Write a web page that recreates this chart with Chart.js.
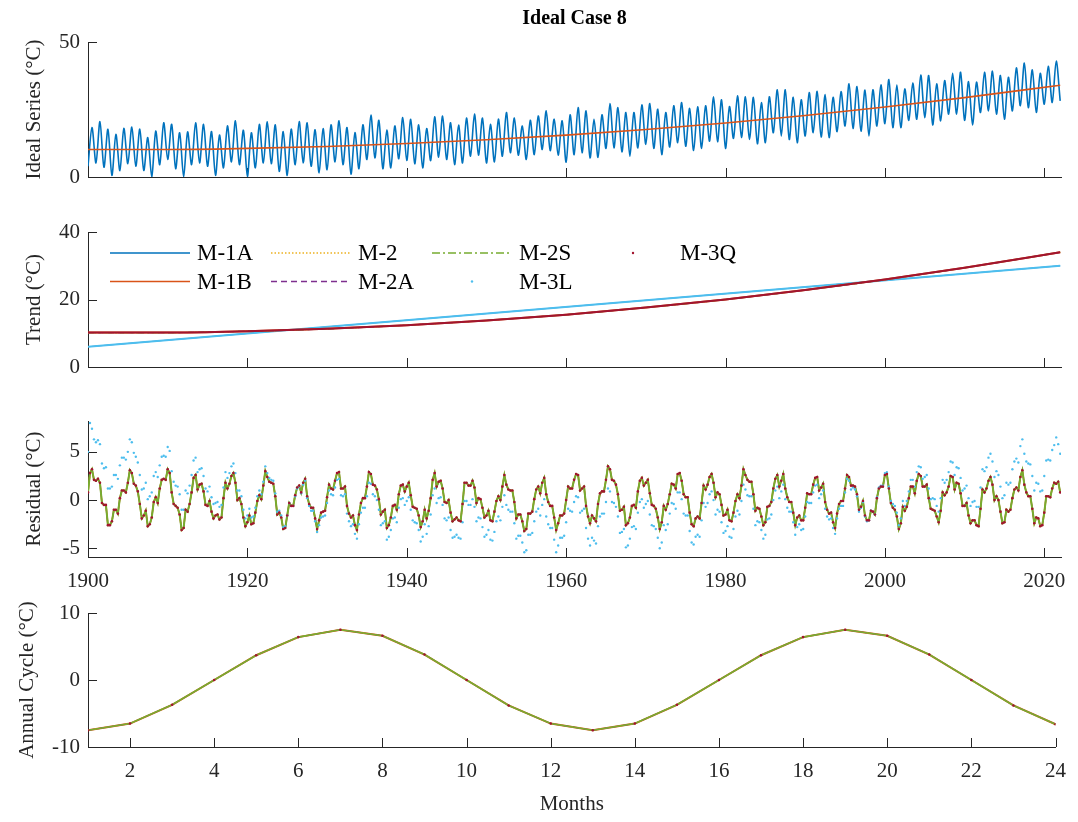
<!DOCTYPE html>
<html>
<head>
<meta charset="utf-8">
<title>Ideal Case 8</title>
<script src="https://cdn.jsdelivr.net/npm/chart.js@4.4.1/dist/chart.umd.min.js"></script>
<style>
  html, body { margin: 0; padding: 0; background: #fff; }
  #wrap { position: relative; width: 1078px; height: 822px; overflow: hidden; }
  .panel { position: absolute; left: 0; width: 1078px; }
  .panel canvas { display: block; }
</style>
</head>
<body>
<div id="wrap">
  <div class="panel" style="top:0px"><canvas id="idealChart" width="1078" height="200"></canvas></div>
  <div class="panel" style="top:200px"><canvas id="trendChart" width="1078" height="200"></canvas></div>
  <div class="panel" style="top:400px"><canvas id="residualChart" width="1078" height="190"></canvas></div>
  <div class="panel" style="top:590px"><canvas id="cycleChart" width="1078" height="232"></canvas></div>
</div>
<script>
// ---- data ----
const firstYear = 1900;

// ideal series: January troughs (1900..2022) and July peaks (1900..2021)
const idealTroughs = [
  4.0, 5.2, 3.6, 0.6, 2.4, 4.9, 4.0, 2.4, 0.0, 4.6,
  6.5, 3.1, 0.0, 4.6, 5.2, 4.0, 0.6, 3.4, 5.6, 4.6,
  0.2, 3.4, 5.2, 4.9, 2.1, 0.6, 4.6, 5.2, 4.0, 1.5,
  2.7, 5.6, 4.6, 1.1, 3.1, 6.5, 7.1, 3.1, 3.4, 6.8,
  6.1, 4.9, 3.4, 6.1, 7.3, 6.5, 4.6, 5.2, 7.7, 8.1,
  5.2, 5.6, 7.7, 9.0, 8.1, 6.5, 8.3, 10.2, 9.8, 8.1,
  5.5, 8.3, 9.0, 7.1, 7.3, 10.6, 10.8, 9.3, 7.7, 10.8,
  12.1, 10.6, 8.3, 11.1, 12.7, 11.4, 9.8, 10.6, 13.3, 13.1,
  10.6, 14.3, 14.6, 13.9, 12.3, 12.7, 16.4, 15.2, 13.9, 12.7,
  15.2, 16.4, 14.8, 14.6, 16.8, 18.9, 18.0, 17.0, 15.2, 18.9,
  19.8, 18.3, 18.3, 21.0, 21.4, 22.0, 19.3, 20.8, 23.3, 23.3,
  21.0, 19.3, 23.9, 24.5, 23.3, 21.4, 24.5, 26.4, 25.7, 23.9,
  27.0, 27.6, 28.2
];
const idealPeaks = [
  18.3, 20.5, 17.7, 15.8, 18.0, 18.5, 17.7, 14.6, 17.0, 20.1,
  19.5, 16.4, 16.7, 20.1, 19.5, 16.8, 15.5, 18.9, 20.8, 17.3,
  16.4, 19.5, 20.4, 19.3, 16.8, 17.7, 20.5, 20.1, 17.5, 17.9,
  19.3, 20.8, 18.3, 16.4, 19.3, 22.9, 21.0, 17.4, 18.9, 22.0,
  21.4, 19.3, 17.9, 22.3, 22.6, 20.1, 19.2, 21.8, 23.3, 21.8,
  19.5, 21.4, 23.9, 21.8, 18.9, 21.0, 22.6, 24.5, 21.4, 20.8,
  23.0, 25.7, 24.5, 21.4, 23.0, 27.2, 25.7, 23.9, 23.9, 26.7,
  27.2, 25.1, 23.9, 26.4, 27.6, 25.4, 26.0, 26.4, 29.7, 28.6,
  26.1, 30.1, 29.7, 29.5, 27.6, 29.7, 32.3, 32.3, 29.5, 28.6,
  31.3, 31.7, 30.5, 29.5, 31.6, 34.5, 33.5, 32.2, 32.3, 34.1,
  36.1, 34.1, 32.6, 34.8, 37.8, 37.6, 34.5, 35.7, 38.4, 38.8,
  35.3, 35.1, 38.8, 39.2, 37.6, 36.9, 40.4, 42.2, 39.7, 38.4,
  41.0, 42.9
];

// trend curves
const trendYears = [1900, 1910, 1920, 1930, 1940, 1950, 1960, 1970, 1980, 1990, 2000, 2010, 2022];
const trendQuad = [10.2, 10.2, 10.6, 11.3, 12.4, 13.8, 15.5, 17.6, 20.0, 22.8, 25.9, 29.4, 34.0];
const trendLinYears = [1900, 2022];
const trendLin = [6.0, 30.0];

// residual of the quadratic-trend methods, every quarter year (Jan, Apr, Jul, Oct), 1900..2022
const residualQuad = [
  0.8, 2.8, 3.2, 2.1, 2.0, 2.2, 1.8, -0.3, -0.5, -0.5, -2.6, -2.6, -2.2, -1.0, -1.0, -1.4, 0.2, 1.0, 1.0, 0.8,
  1.8, 3.1, 2.8, 1.7, 1.5, 0.9, -0.4, -1.9, -1.6, -1.1, -2.7, -2.5, -1.8, -0.2, 0.3, -0.3, 1.2, 2.1, 2.2, 2.1,
  3.2, 2.8, 0.8, -0.4, -0.6, -0.8, -1.5, -3.1, -2.9, -1.0, -1.2, -0.4, 0.8, 2.3, 2.6, 1.1, 1.6, 1.7, 0.9, -0.5,
  -0.6, -0.1, -1.2, -1.9, -1.6, -1.5, -2.0, -1.8, 0.2, 1.8, 1.2, 1.7, 2.5, 2.8, 1.8, 0.0, 0.2, -0.4, -1.8, -2.7,
  -2.3, -1.6, -2.5, -2.4, -1.3, -0.1, 0.5, 0.1, 1.5, 3.0, 2.4, 1.9, 1.8, 1.7, 0.4, -1.5, -1.3, -1.8, -3.0, -2.9,
  -1.6, -0.3, -0.6, -0.6, 0.5, 1.3, 1.5, 0.8, 1.8, 2.2, 0.4, -0.4, -0.8, -0.8, -1.9, -3.0, -2.1, -1.3, -1.2, -1.1,
  0.3, 1.6, 1.2, 1.1, 2.0, 2.8, 2.9, 1.2, 1.2, 1.4, -0.6, -1.4, -1.8, -1.6, -2.6, -3.1, -1.5, -0.3, 0.2, 0.2,
  1.4, 2.9, 2.7, 1.6, 1.5, 1.1, 0.1, -1.5, -1.2, -1.0, -2.9, -2.6, -1.8, -0.6, -0.5, -1.0, 0.6, 1.5, 1.6, 0.9,
  1.4, 1.8, 0.5, -0.7, -0.8, -0.9, -1.6, -2.8, -2.2, -1.0, -1.9, -1.1, 0.2, 2.1, 2.8, 1.4, 1.9, 2.0, 1.2, -0.2,
  -0.3, 0.0, -1.3, -2.2, -2.0, -1.8, -2.1, -2.2, -0.4, 1.8, 1.8, 1.5, 1.5, 2.0, 1.3, -0.3, 0.2, 0.1, -0.8, -1.8,
  -1.6, -1.1, -2.1, -2.2, -1.2, -0.1, 0.4, 0.0, 1.4, 2.6, 1.6, 1.1, 1.0, 1.0, -0.2, -1.9, -1.5, -1.5, -2.2, -3.2,
  -3.0, -1.4, -1.4, -1.2, 0.1, 1.1, 1.4, 0.7, 1.8, 2.3, 0.6, -0.2, -0.6, -0.6, -1.8, -3.1, -2.4, -1.6, -1.6, -1.4,
  0.0, 1.4, 1.2, 1.2, 2.1, 2.7, 2.6, 1.0, 1.2, 1.4, -0.6, -1.7, -2.4, -1.6, -1.9, -2.2, -0.4, 0.7, 0.9, 0.9,
  2.1, 3.5, 3.2, 2.1, 2.0, 1.6, 0.6, -1.1, -1.0, -0.7, -2.6, -2.4, -1.8, -0.6, -0.5, -0.8, 0.9, 2.0, 2.3, 1.5,
  1.8, 2.1, 0.7, -0.5, -0.6, -0.9, -1.8, -3.0, -2.3, -0.6, -1.0, -0.4, 0.6, 1.7, 1.6, 1.2, 2.7, 2.8, 2.0, 0.6,
  0.3, 0.3, -1.3, -2.5, -2.7, -1.9, -1.7, -1.9, -0.3, 1.5, 1.1, 1.6, 2.4, 2.7, 1.8, 0.3, 0.8, 0.6, -0.5, -1.6,
  -1.5, -1.0, -2.1, -2.2, -1.3, -0.1, 0.6, 0.2, 1.5, 3.2, 2.6, 2.1, 1.9, 1.9, 0.6, -1.1, -0.8, -0.9, -1.7, -2.6,
  -2.3, -0.7, -0.6, -0.2, 1.2, 2.2, 2.6, 1.4, 2.0, 2.7, 1.2, 0.3, -0.2, -0.2, -1.3, -2.6, -1.8, -1.6, -2.1, -2.1,
  -0.8, 0.7, 0.6, 0.6, 1.6, 2.3, 2.4, 1.0, 1.3, 1.7, -0.2, -1.0, -1.4, -1.3, -2.3, -2.9, -1.4, -0.4, -0.1, -0.1,
  1.2, 2.6, 2.4, 1.5, 1.5, 1.4, 0.6, -1.0, -0.7, -0.1, -1.6, -2.1, -2.1, -1.1, -1.2, -1.5, 0.2, 1.2, 1.4, 1.4,
  2.6, 2.7, 1.2, -0.3, -0.8, -1.0, -1.7, -3.0, -2.4, -0.7, -1.1, -0.7, 0.2, 1.4, 1.4, 0.7, 2.0, 2.7, 2.5, 1.4,
  1.4, 1.6, 0.2, -0.9, -1.0, -1.1, -1.7, -2.3, -1.1, 0.8, 0.5, 0.8, 1.4, 2.5, 2.4, 1.1, 1.8, 1.7, 0.7, -0.6,
  -0.6, -0.3, -1.6, -2.4, -2.1, -2.1, -2.6, -2.7, -0.9, 1.1, 0.8, 1.2, 2.0, 2.4, 1.6, 0.0, 0.4, 0.0, -1.2, -2.4,
  -2.3, -1.0, -1.2, -1.0, 0.2, 1.1, 1.3, 1.0, 2.4, 3.1, 1.6, 0.8, 0.4, 0.4, -0.9, -2.4, -1.8, -1.9, -2.7, -2.6,
  -1.3, 0.4, 0.4, 0.3, 1.2, 1.8, 1.7, 1.9, 0.8
];

// residual of the linear-trend method (M-3L), every quarter year, 1900..2022
const residualLin = [
  5.0, 8.0, 7.4, 6.3, 6.0, 6.2, 5.8, 3.8, 3.3, 3.4, 1.2, 1.2, 1.4, 2.6, 2.6, 2.2, 3.6, 4.4, 4.4, 4.2,
  5.0, 6.3, 6.0, 4.9, 4.5, 3.9, 2.6, 1.1, 1.2, 1.8, 0.1, 0.4, 0.8, 2.5, 2.9, 2.4, 3.6, 4.5, 4.6, 4.5,
  5.5, 5.1, 3.0, 1.9, 1.5, 1.4, 0.6, -1.0, -1.0, 1.0, 0.7, 1.5, 2.6, 4.1, 4.4, 2.9, 3.2, 3.3, 2.5, 1.2,
  0.9, 1.4, 0.3, -0.4, -0.3, -0.2, -0.7, -0.5, 1.3, 2.9, 2.3, 2.8, 3.5, 3.8, 2.8, 1.0, 1.0, 0.4, -1.0, -1.9,
  -1.6, -0.9, -1.8, -1.7, -0.8, 0.4, 1.0, 0.6, 1.9, 3.5, 2.8, 2.3, 2.1, 2.0, 0.7, -1.2, -1.1, -1.6, -2.8, -2.7,
  -1.6, -0.3, -0.6, -0.6, 0.4, 1.2, 1.4, 0.7, 1.6, 2.0, 0.2, -0.6, -1.1, -1.1, -2.2, -3.3, -2.6, -1.8, -1.7, -1.6,
  -0.3, 1.0, 0.6, 0.5, 1.3, 2.1, 2.2, 0.5, 0.4, 0.6, -1.4, -2.2, -2.7, -2.5, -3.5, -4.0, -2.5, -1.3, -0.8, -0.8,
  0.4, 1.8, 1.7, 0.6, 0.4, 0.0, -1.0, -2.6, -2.4, -2.2, -4.1, -3.8, -3.1, -1.9, -1.8, -2.3, -0.8, 0.1, 0.2, -0.5,
  -0.1, 0.3, -1.0, -2.1, -2.3, -2.4, -3.1, -4.3, -3.8, -2.5, -3.5, -2.7, -1.5, 0.5, 1.2, -0.3, 0.2, 0.3, -0.5, -1.9,
  -2.1, -1.8, -3.1, -3.9, -3.8, -3.6, -3.9, -4.0, -2.3, -0.1, -0.1, -0.5, -0.5, 0.1, -0.7, -2.2, -1.8, -1.9, -2.8, -3.8,
  -3.6, -3.1, -4.1, -4.2, -3.3, -2.2, -1.7, -2.1, -0.7, 0.5, -0.5, -1.0, -1.2, -1.2, -2.4, -4.0, -3.7, -3.7, -4.4, -5.4,
  -5.2, -3.6, -3.6, -3.4, -2.2, -1.2, -0.9, -1.6, -0.5, 0.1, -1.7, -2.5, -2.9, -2.9, -4.1, -5.4, -4.7, -3.9, -3.9, -3.7,
  -2.3, -0.9, -1.1, -1.2, -0.2, 0.4, 0.3, -1.3, -1.1, -0.9, -2.9, -4.0, -4.7, -3.9, -4.2, -4.5, -2.7, -1.7, -1.4, -1.4,
  -0.2, 1.2, 0.9, -0.2, -0.3, -0.7, -1.7, -3.4, -3.3, -3.0, -4.9, -4.7, -4.0, -2.8, -2.7, -3.0, -1.3, -0.2, 0.1, -0.8,
  -0.4, -0.1, -1.5, -2.6, -2.7, -3.0, -3.9, -5.0, -4.4, -2.6, -3.1, -2.5, -1.4, -0.3, -0.4, -0.9, 0.8, 0.8, 0.1, -1.4,
  -1.6, -1.6, -3.2, -4.4, -4.6, -3.8, -3.6, -3.8, -2.1, -0.3, -0.7, -0.3, 0.6, 0.9, 0.0, -1.5, -1.0, -1.2, -2.3, -3.4,
  -3.2, -2.7, -3.8, -3.9, -3.0, -1.7, -1.1, -1.5, -0.1, 1.6, 1.1, 0.5, 0.4, 0.4, -0.9, -2.6, -2.2, -2.3, -3.1, -4.0,
  -3.6, -2.0, -1.9, -1.5, 0.0, 1.0, 1.4, 0.2, 0.9, 1.6, 0.1, -0.8, -1.2, -1.2, -2.3, -3.6, -2.8, -2.5, -3.1, -3.0,
  -1.7, -0.2, -0.3, -0.3, 0.8, 1.5, 1.6, 0.2, 0.6, 1.0, -0.9, -1.7, -2.0, -1.9, -2.9, -3.5, -1.9, -0.9, -0.6, -0.6,
  0.8, 2.2, 2.0, 1.1, 1.3, 1.1, 0.4, -1.2, -0.8, -0.2, -1.7, -2.2, -2.1, -1.1, -1.2, -1.5, 0.3, 1.3, 1.5, 1.5,
  2.8, 2.9, 1.4, -0.1, -0.4, -0.6, -1.3, -2.6, -1.9, -0.1, -0.6, -0.1, 0.9, 2.1, 2.1, 1.4, 2.9, 3.5, 3.4, 2.2,
  2.4, 2.6, 1.2, 0.1, 0.2, 0.1, -0.6, -1.2, 0.2, 2.1, 1.8, 2.1, 2.9, 4.0, 3.9, 2.6, 3.4, 3.3, 2.3, 1.0,
  1.2, 1.5, 0.2, -0.6, -0.2, -0.1, -0.7, -0.7, 1.3, 3.2, 3.0, 3.4, 4.4, 4.8, 4.0, 2.4, 3.0, 2.6, 1.4, 0.2,
  0.5, 1.8, 1.6, 1.8, 3.2, 4.0, 4.3, 3.9, 5.6, 6.3, 4.8, 4.0, 3.8, 3.7, 2.5, 1.0, 1.8, 1.7, 0.9, 1.0,
  2.5, 4.1, 4.2, 4.1, 5.2, 5.7, 6.5, 5.8, 4.8
];

// annual cycle over two years
const cycleMonths = [1, 2, 3, 4, 5, 6, 7, 8, 9, 10, 11, 12, 13, 14, 15, 16, 17, 18, 19, 20, 21, 22, 23, 24];
const cycleValues = [-7.5, -6.5, -3.7, 0.0, 3.7, 6.4, 7.5, 6.6, 3.8, 0.0, -3.8, -6.5,
                     -7.5, -6.5, -3.7, 0.0, 3.7, 6.4, 7.5, 6.6, 3.8, 0.0, -3.8, -6.6];

const yearTicksStep = 20;

// ---- styling ----
const serif = "'Liberation Serif', 'Times New Roman', serif";
const axisColor = '#262626';
const colors = {
  m1a: '#0072BD', m1b: '#D95319', m2: '#EDB120', m2a: '#7E2F8E',
  m2s: '#77AC30', m3l: '#4DBEEE', m3q: '#A2142F'
};
Chart.defaults.font.family = serif;
Chart.defaults.color = axisColor;

function pairs(xs, ys) {
  return ys.map((y, i) => ({ x: xs[i], y: y }));
}

// build the point lists from the arrays above
const idealPoints = [];
idealTroughs.forEach((v, i) => {
  idealPoints.push({ x: firstYear + i, y: v });
  if (i < idealPeaks.length) idealPoints.push({ x: firstYear + i + 0.5, y: idealPeaks[i] });
});
const residualQuadPoints = residualQuad.map((v, i) => ({ x: firstYear + i / 4, y: v }));
const residualLinPoints = residualLin.map((v, i) => ({ x: firstYear + i / 4, y: v }));
const trendQuadPoints = pairs(trendYears, trendQuad);
const trendLinPoints = pairs(trendLinYears, trendLin);
const cyclePoints = pairs(cycleMonths, cycleValues);

// MATLAB style ticks that point into the plot
const inwardTicks = {
  id: 'inwardTicks',
  beforeDatasetsDraw(chart) {
    const ctx = chart.ctx;
    const area = chart.chartArea;
    const xs = chart.scales.x, ys = chart.scales.y;
    ctx.save();
    ctx.strokeStyle = axisColor;
    ctx.lineWidth = 1;
    xs.ticks.forEach(t => {
      const px = Math.round(xs.getPixelForValue(t.value)) + 0.5;
      ctx.beginPath();
      ctx.moveTo(px, area.bottom);
      ctx.lineTo(px, area.bottom - 9);
      ctx.stroke();
    });
    ys.ticks.forEach(t => {
      const py = Math.round(ys.getPixelForValue(t.value)) + 0.5;
      ctx.beginPath();
      ctx.moveTo(area.left, py);
      ctx.lineTo(area.left + 9, py);
      ctx.stroke();
    });
    ctx.restore();
  }
};

// title centred over the plot box, as MATLAB does
const boxTitle = {
  id: 'boxTitle',
  afterDraw(chart, args, opts) {
    const ctx = chart.ctx;
    const area = chart.chartArea;
    ctx.save();
    ctx.font = 'bold 20px ' + serif;
    ctx.fillStyle = '#000';
    ctx.textAlign = 'center';
    ctx.textBaseline = 'middle';
    ctx.fillText(opts.text, (area.left + area.right) / 2, 19);
    ctx.restore();
  }
};

// legend of the trend panel, laid out column by column like the original
const legendLayout = [
  { label: 'M-1A', color: colors.m1a, kind: 'solid',   col: 0, row: 0 },
  { label: 'M-1B', color: colors.m1b, kind: 'solid',   col: 0, row: 1 },
  { label: 'M-2',  color: colors.m2,  kind: 'dotted',  col: 1, row: 0 },
  { label: 'M-2A', color: colors.m2a, kind: 'dashed',  col: 1, row: 1 },
  { label: 'M-2S', color: colors.m2s, kind: 'dashdot', col: 2, row: 0 },
  { label: 'M-3L', color: colors.m3l, kind: 'point',   col: 2, row: 1 },
  { label: 'M-3Q', color: colors.m3q, kind: 'point',   col: 3, row: 0 }
];
const columnLegend = {
  id: 'columnLegend',
  afterDraw(chart) {
    const ctx = chart.ctx;
    ctx.save();
    ctx.font = '23px ' + serif;
    ctx.textBaseline = 'middle';
    ctx.textAlign = 'left';
    legendLayout.forEach(item => {
      const x0 = 110 + item.col * 161;
      const y = 53 + item.row * 28.5;
      ctx.strokeStyle = item.color;
      ctx.fillStyle = item.color;
      ctx.lineWidth = 1.5;
      if (item.kind === 'point') {
        ctx.beginPath();
        ctx.arc(x0 + 40, y, 1.2, 0, Math.PI * 2);
        ctx.fill();
      } else {
        if (item.kind === 'dotted') ctx.setLineDash([1.5, 2]);
        else if (item.kind === 'dashed') ctx.setLineDash([6, 4]);
        else if (item.kind === 'dashdot') ctx.setLineDash([8, 3, 2, 3]);
        else ctx.setLineDash([]);
        ctx.beginPath();
        ctx.moveTo(x0, y);
        ctx.lineTo(x0 + 80, y);
        ctx.stroke();
        ctx.setLineDash([]);
      }
      ctx.fillStyle = '#000';
      ctx.fillText(item.label, x0 + 87, y + 1);
    });
    ctx.restore();
  }
};

function xAxis(cfg) {
  return {
    type: 'linear',
    min: cfg.min,
    max: cfg.max,
    border: { display: true, color: axisColor, width: 1 },
    grid: { display: false, drawTicks: false },
    ticks: {
      display: cfg.labels,
      stepSize: cfg.step,
      includeBounds: false,
      autoSkip: false,
      maxRotation: 0,
      padding: 12,
      font: { size: 21 },
      color: axisColor,
      callback: v => String(v)
    },
    title: cfg.title ? {
      display: true, text: cfg.title, color: axisColor,
      font: { size: 21 }, padding: { top: 0, bottom: 5 }
    } : { display: false },
    afterFit(s) { s.height = cfg.height; }
  };
}

function yAxis(cfg) {
  return {
    type: 'linear',
    min: cfg.min,
    max: cfg.max,
    border: { display: true, color: axisColor, width: 1 },
    grid: { display: false, drawTicks: false },
    ticks: {
      stepSize: cfg.step,
      includeBounds: false,
      autoSkip: false,
      padding: 8,
      font: { size: 21 },
      color: axisColor,
      callback: v => String(v)
    },
    title: {
      display: true, text: cfg.title, color: axisColor,
      font: { size: 21 }, padding: { top: cfg.titlePad, bottom: 0 }
    },
    afterFit(s) { s.width = 88; }
  };
}

function panelOptions(cfg) {
  return {
    responsive: false,
    animation: false,
    events: [],
    layout: { padding: { left: 0, right: 17, top: cfg.padTop, bottom: 0 } },
    plugins: {
      legend: { display: false },
      tooltip: { enabled: false },
      title: { display: false },
      boxTitle: cfg.boxTitle || { text: '' }
    },
    elements: { point: { radius: 0 }, line: { tension: 0 } },
    scales: { x: xAxis(cfg.x), y: yAxis(cfg.y) }
  };
}

function lineSet(label, data, color, width, extra) {
  return Object.assign({
    label: label, data: data, borderColor: color, backgroundColor: color,
    borderWidth: width, pointRadius: 0, fill: false
  }, extra || {});
}
function dotSet(label, data, color, radius) {
  return {
    label: label, data: data, showLine: false, borderColor: color,
    pointRadius: radius, pointBorderWidth: 0, pointBackgroundColor: color
  };
}

// Panel 1: ideal series with its trend
new Chart(document.getElementById('idealChart'), {
  type: 'line',
  data: {
    datasets: [
      lineSet('M-1B', trendQuadPoints, colors.m1b, 1.6, { cubicInterpolationMode: 'monotone' }),
      lineSet('Ideal', idealPoints, colors.m1a, 1.6, { tension: 0.3 })
    ]
  },
  options: panelOptions({
    padTop: 42,
    boxTitle: { text: 'Ideal Case 8' },
    x: { min: 1900, max: 2022.1, step: yearTicksStep, labels: false, height: 23 },
    y: { min: 0, max: 50, step: 50, title: 'Ideal Series (°C)', titlePad: 22 }
  }),
  plugins: [inwardTicks, boxTitle]
});

// Panel 2: trends
new Chart(document.getElementById('trendChart'), {
  type: 'line',
  data: {
    datasets: [
      lineSet('M-3Q', trendQuadPoints, colors.m3q, 2, { cubicInterpolationMode: 'monotone' }),
      lineSet('M-2S', trendQuadPoints, colors.m2s, 1.2, { cubicInterpolationMode: 'monotone', borderDash: [8, 3, 2, 3] }),
      lineSet('M-2A', trendQuadPoints, colors.m2a, 1.2, { cubicInterpolationMode: 'monotone', borderDash: [6, 4] }),
      lineSet('M-2', trendQuadPoints, colors.m2, 1.2, { cubicInterpolationMode: 'monotone', borderDash: [1.5, 2] }),
      lineSet('M-1B', trendQuadPoints, colors.m1b, 2, { cubicInterpolationMode: 'monotone' }),
      lineSet('M-3L', trendLinPoints, colors.m3l, 2.2),
      lineSet('M-1A', trendLinPoints, colors.m1a, 1.2)
    ]
  },
  options: panelOptions({
    padTop: 32,
    x: { min: 1900, max: 2022.1, step: yearTicksStep, labels: false, height: 33 },
    y: { min: 0, max: 40, step: 20, title: 'Trend (°C)', titlePad: 22 }
  }),
  plugins: [inwardTicks, columnLegend]
});

// Panel 3: residuals
new Chart(document.getElementById('residualChart'), {
  type: 'line',
  data: {
    datasets: [
      dotSet('M-3Q', residualQuadPoints, colors.m3q, 1.3),
      dotSet('M-3L', residualLinPoints, colors.m3l, 1.2),
      lineSet('M-2S', residualQuadPoints, colors.m2s, 2),
      lineSet('M-2A', residualQuadPoints, colors.m2a, 1, { borderDash: [6, 4] }),
      lineSet('M-2', residualQuadPoints, colors.m2, 1.4, { borderDash: [1.5, 2] }),
      lineSet('M-1B', residualQuadPoints, colors.m1b, 1.6)
    ]
  },
  options: panelOptions({
    padTop: 21,
    x: { min: 1900, max: 2022.1, step: yearTicksStep, labels: true, height: 33 },
    y: { min: -5.9, max: 8.2, step: 5, title: 'Residual (°C)', titlePad: 22 }
  }),
  plugins: [inwardTicks]
});

// Panel 4: annual cycle
new Chart(document.getElementById('cycleChart'), {
  type: 'line',
  data: {
    datasets: [
      dotSet('M-3Q', cyclePoints, colors.m3q, 1.3),
      lineSet('M-2S', cyclePoints, colors.m2s, 1.6),
      lineSet('M-2A', cyclePoints, colors.m2a, 1, { borderDash: [6, 4] }),
      lineSet('M-2', cyclePoints, colors.m2, 1, { borderDash: [1.5, 2] }),
      lineSet('M-1B', cyclePoints, colors.m1b, 2)
    ]
  },
  options: panelOptions({
    padTop: 23,
    x: { min: 1, max: 24, step: 2, labels: true, height: 75, title: 'Months' },
    y: { min: -10, max: 10, step: 10, title: 'Annual Cycle (°C)', titlePad: 15 }
  }),
  plugins: [inwardTicks]
});
</script>
</body>
</html>
